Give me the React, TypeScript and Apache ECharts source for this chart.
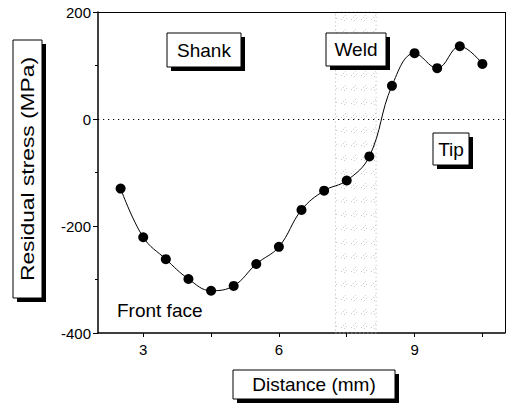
import React, { useEffect, useRef } from "react";
import * as echarts from "echarts";

const distances = [2.5, 3, 3.5, 4, 4.5, 5, 5.5, 6, 6.5, 7, 7.5, 8, 8.5, 9, 9.5, 10, 10.5];
const stresses = [-130, -221, -262, -299, -321, -312, -271, -239, -170, -134, -115, -70, 62, 123, 95, 136, 103];
const xTickValues = [3, 6, 9];
const xAllTickValues = [3, 4.5, 6, 7.5, 9, 10.5];
const xRange = [2, 11];
const yRange = [-400, 200];
const weldRange = [7.25, 8.15];
const zeroLine = 0;

const FONT = "Liberation Sans, Arial, sans-serif";

const hatchSvg =
  "data:image/svg+xml;utf8," +
  encodeURIComponent(
    '<svg xmlns="http://www.w3.org/2000/svg" width="10" height="14">' +
      '<path d="M1 6 L6 1 M4 7 L8 3" stroke="#b0b0b0" stroke-width="0.7" stroke-dasharray="1.5 1.5"/>' +
      "</svg>"
  );

function box(x: number, y: number, w: number, h: number, text: string, rotate = false, scale = 1) {
  const els: any[] = [
    { type: "rect", shape: { x: x + 4, y: y + 4, width: w, height: h }, style: { fill: "#000" }, z: 100 },
    { type: "rect", shape: { x, y, width: w, height: h }, style: { fill: "#fff", stroke: "#000", lineWidth: 1 }, z: 101 },
    {
      type: "text",
      x: x + w / 2,
      y: y + h / 2,
      rotation: rotate ? Math.PI / 2 : 0,
      scaleX: scale,
      style: {
        text,
        fill: "#000",
        font: `19px ${FONT}`,
        align: "center",
        verticalAlign: "middle",
      },
      z: 102,
    },
  ];
  return els;
}

export default function App() {
  const ref = useRef<HTMLDivElement>(null);
  useEffect(() => {
    if (!ref.current) return;
    const chart = echarts.init(ref.current, undefined, { renderer: "svg" });
    const data = distances.map((d, i) => [d, stresses[i]]);
    chart.setOption({
      animation: false,
      backgroundColor: "#fff",
      grid: {
        left: 98,
        right: 1,
        top: 12,
        bottom: 70,
        outerBoundsMode: "none",
        containLabel: false,
        show: false,
      },
      xAxis: {
        type: "value",
        min: xRange[0],
        max: xRange[1],
        position: "bottom",
        axisLine: { show: true, onZero: false, lineStyle: { color: "#000", width: 1.5 } },
        axisTick: { show: true, inside: false, length: 4, customValues: xAllTickValues, lineStyle: { color: "#000" } },
        axisLabel: {
          customValues: xTickValues,
          color: "#000",
          fontSize: 15,
          fontFamily: FONT,
          margin: 9,
        },
        splitLine: { show: false },
      },
      yAxis: {
        type: "value",
        min: yRange[0],
        max: yRange[1],
        interval: 200,
        axisLine: { show: true, onZero: false, lineStyle: { color: "#000", width: 1.5 } },
        axisTick: { show: true, length: 5, lineStyle: { color: "#000" } },
        minorTick: { show: true, splitNumber: 2, length: 3, lineStyle: { color: "#000" } },
        axisLabel: { color: "#000", fontSize: 15, fontFamily: FONT, margin: 7 },
        splitLine: { show: false },
      },
      series: [
        {
          type: "line",
          data,
          smooth: 0.4,
          symbol: "circle",
          symbolSize: 10,
          itemStyle: { color: "#000" },
          lineStyle: { color: "#000", width: 1 },
          markLine: {
            silent: true,
            symbol: "none",
            label: { show: false },
            lineStyle: { color: "#000", type: [1.2, 3.8], width: 1.2 },
            data: [
              { yAxis: zeroLine },
              { xAxis: xRange[1], lineStyle: { type: "solid", width: 1, color: "#000" } },
              { yAxis: yRange[1], lineStyle: { type: "solid", width: 1, color: "#000" } },
            ],
          },
          markArea: {
            silent: true,
            itemStyle: {
              color: { image: hatchSvg, repeat: "repeat", imageWidth: 10, imageHeight: 14 } as any,
              borderColor: "#bbb",
              borderWidth: 1,
              borderType: [1, 3],
            },
            data: [[{ xAxis: weldRange[0] }, { xAxis: weldRange[1] }]],
          },
        },
      ],
      graphic: [
        ...box(167, 33, 74, 34, "Shank"),
        ...box(326, 33, 60, 33, "Weld"),
        ...box(433, 133, 36, 32, "Tip"),
        ...box(13, 40, 29, 258, "Residual stress (MPa)", true, 1.2),
        ...box(233, 370, 162, 29, "Distance (mm)"),
        {
          type: "text",
          x: 117,
          y: 310,
          style: { text: "Front face", fill: "#000", font: `19px ${FONT}`, align: "left", verticalAlign: "middle" },
          z: 102,
        },
      ],
    });
    return () => chart.dispose();
  }, []);
  return <div ref={ref} style={{ position: "fixed", left: 0, top: 0, width: 506, height: 403 }} />;
}
